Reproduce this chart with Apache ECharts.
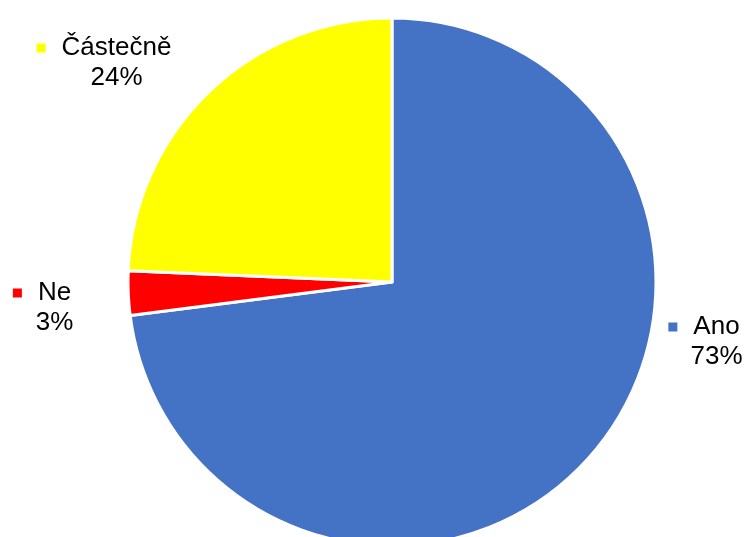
<!DOCTYPE html>
<html>
<head>
<meta charset="utf-8">
<script src="https://cdn.jsdelivr.net/npm/echarts@6/dist/echarts.min.js"></script>
<style>
  html, body { margin: 0; padding: 0; background: #fff; }
  #chart { width: 744px; height: 537px; }
</style>
</head>
<body>
<div id="chart"></div>
<script>
// Answer counts per option
const categories = ['Ano', 'Ne', 'Částečně'];
const counts = [27, 1, 9];
const colors = ['#4472C4', '#FF0000', '#FFFF00'];

// Label block centres (px) for each slice
const labelPos = [[704, 342], [42, 308], [104, 63]];

const total = counts.reduce((a, b) => a + b, 0);

const data = categories.map((name, i) => ({
  name: name,
  value: counts[i],
  itemStyle: { color: colors[i] },
  label: {
    rich: {
      m: { width: 9, height: 9, backgroundColor: colors[i], verticalAlign: 'middle' }
    }
  }
}));

const chart = echarts.init(document.getElementById('chart'), null, { renderer: 'canvas' });
chart.setOption({
  animation: false,
  backgroundColor: '#ffffff',
  series: [{
    type: 'pie',
    center: [392, 282],
    radius: 264,
    startAngle: 90,
    clockwise: true,
    avoidLabelOverlap: false,
    itemStyle: { borderColor: '#ffffff', borderWidth: 3 },
    labelLine: { show: false },
    label: {
      show: true,
      position: 'outside',
      fontFamily: 'Liberation Sans, Arial, sans-serif',
      fontSize: 26,
      color: '#000000',
      lineHeight: 30,
      align: 'center',
      formatter: p => {
        const pct = Math.round(p.value / total * 100) + '%';
        return '{m|}{g|}{t|' + p.name + '}\n{h|}{t|' + pct + '}';
      },
      rich: {
        g: { width: 16 },
        h: { width: 25 },
        t: { fontSize: 26, lineHeight: 30, color: '#000000', fontFamily: 'Liberation Sans, Arial, sans-serif' }
      }
    },
    labelLayout: params => ({
      x: labelPos[params.dataIndex][0],
      y: labelPos[params.dataIndex][1],
      align: 'center',
      verticalAlign: 'middle',
      hideOverlap: false
    }),
    data: data
  }]
});
</script>
</body>
</html>
